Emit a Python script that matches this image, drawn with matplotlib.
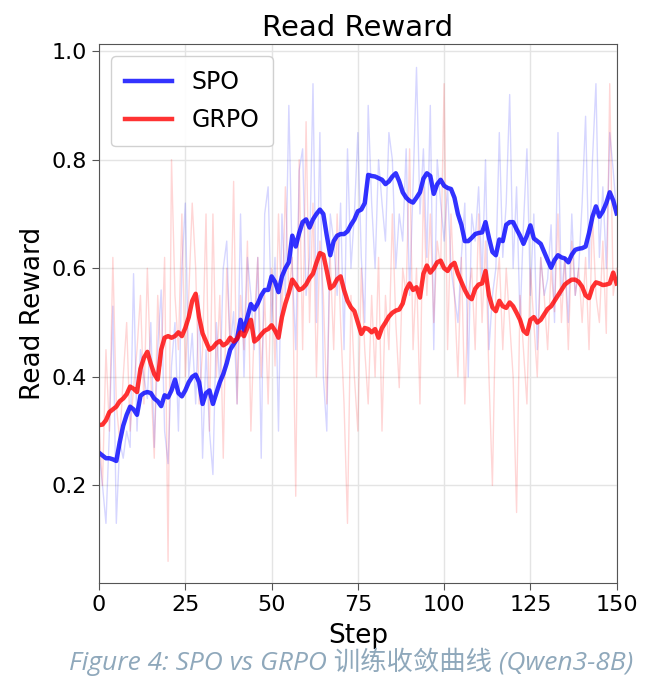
import numpy as np
import matplotlib
matplotlib.use("Agg")
import matplotlib.pyplot as plt

steps = np.arange(0, 151)

# faint per-step rewards
spo_raw = [
    0.26, 0.20, 0.13, 0.30, 0.53, 0.13, 0.28, 0.25, 0.30, 0.27,
    0.59, 0.30, 0.45, 0.40, 0.36, 0.50, 0.27, 0.45, 0.56, 0.30,
    0.24, 0.42, 0.50, 0.30, 0.60, 0.72, 0.40, 0.48, 0.35, 0.55,
    0.25, 0.45, 0.30, 0.22, 0.50, 0.38, 0.60, 0.65, 0.45, 0.52,
    0.35, 0.70, 0.40, 0.62, 0.55, 0.45, 0.62, 0.25, 0.70, 0.75,
    0.50, 0.62, 0.30, 0.70, 0.55, 0.90, 0.60, 0.45, 0.78, 0.82,
    0.55, 0.62, 0.94, 0.50, 0.85, 0.40, 0.30, 0.70, 0.65, 0.55,
    0.72, 0.45, 0.82, 0.60, 0.70, 0.85, 0.62, 0.50, 0.90, 0.72,
    0.60, 0.80, 0.72, 0.65, 0.85, 0.80, 0.60, 0.70, 0.65, 0.82,
    0.55, 0.75, 0.97, 0.70, 0.82, 0.62, 0.90, 0.45, 0.80, 0.72,
    0.65, 0.75, 0.60, 0.55, 0.50, 0.62, 0.72, 0.40, 0.70, 0.65,
    0.75, 0.58, 0.80, 0.45, 0.55, 0.60, 0.85, 0.62, 0.72, 0.92,
    0.60, 0.75, 0.50, 0.68, 0.82, 0.55, 0.70, 0.45, 0.62, 0.55,
    0.58, 0.68, 0.50, 0.85, 0.55, 0.62, 0.50, 0.70, 0.55, 0.60,
    0.72, 0.88, 0.60, 0.80, 0.94, 0.62, 0.75, 0.60, 0.85, 0.78,
    0.70,
]
grpo_raw = [
    0.31, 0.20, 0.45, 0.30, 0.62, 0.35, 0.28, 0.40, 0.50, 0.30,
    0.38, 0.45, 0.55, 0.35, 0.60, 0.40, 0.25, 0.55, 0.42, 0.62,
    0.06, 0.80, 0.55, 0.45, 0.70, 0.40, 0.55, 0.72, 0.60, 0.35,
    0.45, 0.70, 0.30, 0.70, 0.40, 0.55, 0.25, 0.60, 0.45, 0.76,
    0.35, 0.55, 0.45, 0.65, 0.30, 0.50, 0.62, 0.40, 0.55, 0.35,
    0.60, 0.42, 0.70, 0.50, 0.75, 0.55, 0.62, 0.18, 0.80, 0.45,
    0.87, 0.50, 0.72, 0.40, 0.65, 0.55, 0.35, 0.62, 0.45, 0.70,
    0.50, 0.35, 0.13, 0.55, 0.40, 0.30, 0.60, 0.45, 0.35, 0.55,
    0.40, 0.62, 0.30, 0.55, 0.45, 0.70, 0.50, 0.38, 0.60, 0.55,
    0.82, 0.45, 0.60, 0.35, 0.75, 0.55, 0.70, 0.50, 0.65, 0.60,
    0.94, 0.45, 0.70, 0.55, 0.40, 0.62, 0.35, 0.55, 0.60, 0.45,
    0.70, 0.50, 0.65, 0.40, 0.20, 0.55, 0.62, 0.45, 0.60, 0.50,
    0.40, 0.15, 0.55, 0.45, 0.35, 0.60, 0.50, 0.40, 0.62, 0.55,
    0.45, 0.60, 0.52, 0.70, 0.50, 0.62, 0.45, 0.65, 0.55, 0.60,
    0.50, 0.62, 0.45, 0.70, 0.55, 0.50, 0.65, 0.48, 0.94, 0.55,
    0.60,
]

# smoothed curves
spo_smooth = [
    0.260, 0.255, 0.250, 0.250, 0.248, 0.245, 0.280, 0.310, 0.330, 0.345,
    0.340, 0.330, 0.365, 0.370, 0.372, 0.370, 0.360, 0.355, 0.346, 0.366,
    0.362, 0.375, 0.395, 0.370, 0.364, 0.375, 0.390, 0.400, 0.404, 0.390,
    0.350, 0.370, 0.375, 0.350, 0.370, 0.390, 0.405, 0.425, 0.450, 0.460,
    0.470, 0.505, 0.485, 0.510, 0.534, 0.524, 0.535, 0.550, 0.560, 0.560,
    0.585, 0.575, 0.556, 0.585, 0.600, 0.611, 0.660, 0.640, 0.665, 0.685,
    0.690, 0.675, 0.690, 0.700, 0.708, 0.700, 0.660, 0.624, 0.650, 0.660,
    0.663, 0.663, 0.668, 0.680, 0.690, 0.705, 0.708, 0.720, 0.772, 0.770,
    0.769, 0.766, 0.763, 0.755, 0.760, 0.769, 0.775, 0.760, 0.740, 0.730,
    0.724, 0.721, 0.730, 0.740, 0.765, 0.775, 0.770, 0.737, 0.755, 0.763,
    0.752, 0.748, 0.746, 0.730, 0.700, 0.680, 0.650, 0.650, 0.656, 0.663,
    0.665, 0.666, 0.685, 0.656, 0.630, 0.624, 0.653, 0.650, 0.680, 0.685,
    0.685, 0.672, 0.660, 0.645, 0.660, 0.679, 0.655, 0.650, 0.645, 0.630,
    0.615, 0.601, 0.615, 0.624, 0.620, 0.618, 0.611, 0.625, 0.634, 0.636,
    0.637, 0.640, 0.665, 0.695, 0.714, 0.695, 0.705, 0.720, 0.740, 0.725,
    0.701,
]
grpo_smooth = [
    0.311, 0.312, 0.320, 0.335, 0.340, 0.345, 0.355, 0.360, 0.368, 0.382,
    0.378, 0.372, 0.415, 0.435, 0.446, 0.424, 0.405, 0.395, 0.450, 0.472,
    0.475, 0.472, 0.475, 0.482, 0.475, 0.490, 0.510, 0.540, 0.553, 0.510,
    0.480, 0.465, 0.450, 0.454, 0.462, 0.466, 0.458, 0.462, 0.472, 0.465,
    0.470, 0.482, 0.475, 0.490, 0.505, 0.465, 0.470, 0.478, 0.485, 0.488,
    0.495, 0.485, 0.472, 0.510, 0.535, 0.555, 0.579, 0.570, 0.560, 0.563,
    0.570, 0.582, 0.590, 0.610, 0.628, 0.625, 0.595, 0.563, 0.568, 0.580,
    0.585, 0.560, 0.540, 0.528, 0.521, 0.500, 0.479, 0.490, 0.488, 0.482,
    0.488, 0.472, 0.490, 0.500, 0.511, 0.518, 0.522, 0.524, 0.535, 0.560,
    0.572, 0.560, 0.565, 0.546, 0.590, 0.605, 0.592, 0.600, 0.611, 0.614,
    0.600, 0.595, 0.605, 0.610, 0.590, 0.575, 0.560, 0.548, 0.543, 0.562,
    0.570, 0.572, 0.595, 0.550, 0.528, 0.521, 0.540, 0.530, 0.527, 0.537,
    0.530, 0.518, 0.505, 0.485, 0.479, 0.505, 0.510, 0.500, 0.505, 0.515,
    0.525, 0.530, 0.540, 0.550, 0.560, 0.570, 0.575, 0.579, 0.579, 0.575,
    0.566, 0.550, 0.545, 0.565, 0.574, 0.572, 0.569, 0.570, 0.572, 0.592,
    0.572,
]

plt.rcParams['font.family'] = ['DejaVu Sans']

fig = plt.figure(figsize=(6.56, 6.78), dpi=100)
ax = fig.add_axes([0.151, 0.140, 0.789, 0.795])

ax.plot(steps, spo_raw, color="blue", alpha=0.16, lw=1.0)
ax.plot(steps, grpo_raw, color="red", alpha=0.16, lw=1.0)
ax.plot(steps, spo_smooth, color="blue", alpha=0.8, lw=3.2, label="SPO")
ax.plot(steps, grpo_smooth, color="red", alpha=0.8, lw=3.2, label="GRPO")

ax.set_xlim(0, 150)
ax.set_ylim(0.02, 1.013)
ax.set_xticks([0, 25, 50, 75, 100, 125, 150])
ax.set_yticks([0.2, 0.4, 0.6, 0.8, 1.0])
ax.grid(True, color="#e4e4e4", lw=1.0)
ax.set_axisbelow(True)
for s in ax.spines.values():
    s.set_color("#555555")
ax.tick_params(labelsize=16, color="#555555", length=5)

ax.set_title("Read Reward", fontsize=21)
ax.set_xlabel("Step", fontsize=19, labelpad=6)
ax.set_ylabel("Read Reward", fontsize=19)
ax.legend(loc="upper left", fontsize=17, handlelength=2.0, labelspacing=0.6,
          borderpad=0.6, framealpha=0.9)

fig.text(0.535, 0.024, "Figure 4: SPO vs GRPO 训练收敛曲线 (Qwen3-8B)",
         ha="center", va="center", fontsize=19, style="italic",
         color="#8fa8bb", family=["Open Sans", "Noto Sans CJK SC"])

fig.savefig("out.png", dpi=100)
